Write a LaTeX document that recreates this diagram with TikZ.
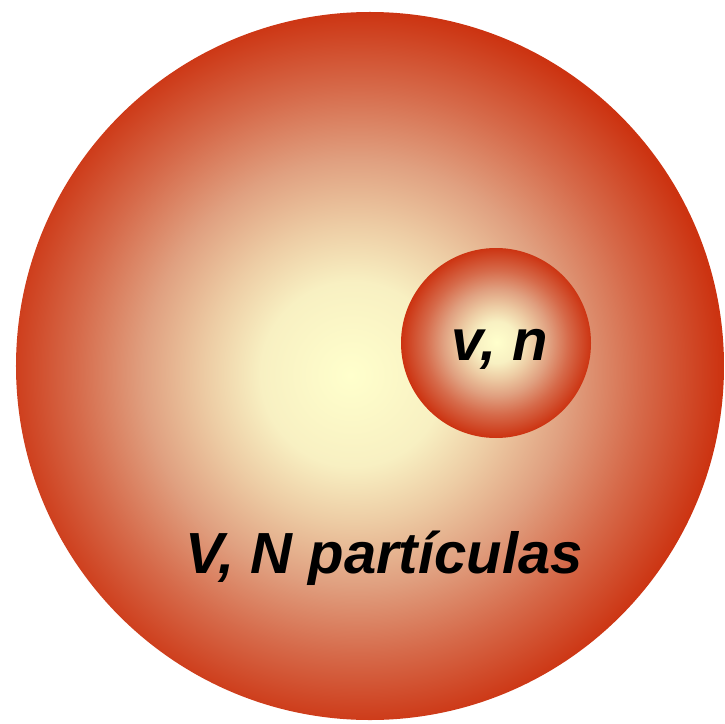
\documentclass[tikz,border=0pt]{standalone}
\usepackage{fontspec}
\newfontfamily\lsans{Liberation Sans}
\definecolor{cA}{HTML}{FFFFCC}
\definecolor{cB}{HTML}{F8F0C2}
\definecolor{cC}{HTML}{EDCCA4}
\definecolor{cD}{HTML}{E0A080}
\definecolor{cE}{HTML}{D66A4A}
\definecolor{cF}{HTML}{CC3311}
\pgfdeclareradialshading{bigball}{\pgfpoint{-1.4bp}{-0.65bp}}{color(0bp)=(cA); color(6.5bp)=(cB); color(10.5bp)=(cC); color(15bp)=(cD); color(20bp)=(cE); color(25.5bp)=(cF); color(50bp)=(cF)}
\pgfdeclareradialshading{smallball}{\pgfpoint{0.15bp}{0.25bp}}{color(0bp)=(cA); color(5.5bp)=(cB); color(9.5bp)=(cC); color(14bp)=(cD); color(19bp)=(cE); color(25bp)=(cF); color(50bp)=(cF)}
\tikzset{lbl/.style={font=\lsans\bfseries\itshape\fontsize{58bp}{60bp}\selectfont, text=black, inner sep=0pt, anchor=base}}
\begin{document}
\begin{tikzpicture}[x=1bp,y=-1bp]
\useasboundingbox (0,0) rectangle (724,724);
\clip (0,0) rectangle (724,724);
\path[shading=bigball] (370,366) circle[radius=354bp];
\path[shading=smallball] (496,343) circle[radius=95bp];
\node[lbl] (vn) at (500,360) {v, n};
\node[lbl] (VN) at (384,573) {V, N partículas};
\end{tikzpicture}
\end{document}
